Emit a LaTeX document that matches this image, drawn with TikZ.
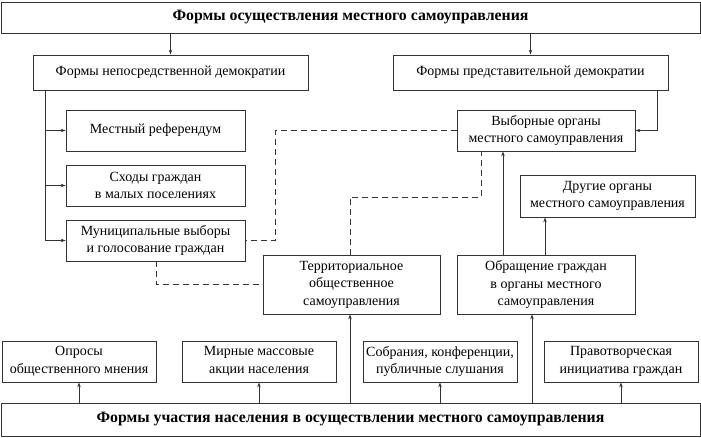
\documentclass[tikz,border=0pt]{standalone}
\usepackage{fontspec}
\setmainfont{Liberation Serif}
\usetikzlibrary{arrows.meta}
\tikzset{
  bx/.style={draw=black!80, line width=0.8pt, inner sep=0pt, align=center,
    font=\fontsize{14}{17.5}\selectfont},
  hd/.style={bx, font=\fontsize{15.8}{18}\selectfont\bfseries},
  arr/.style={draw=black!80, line width=0.8pt, -{Stealth[length=5pt,width=3.5pt]}},
  ln/.style={draw=black!80, line width=0.8pt},
  dsh/.style={draw=black!80, line width=0.8pt, dash pattern=on 6pt off 4pt},
}
\begin{document}
\begin{tikzpicture}[x=1pt,y=-1pt]
\useasboundingbox (0,0) rectangle (701,438);
% nodes
\node[hd, minimum width=699pt, minimum height=31pt] (top) at (350.5,17.5) {Формы осуществления местного самоуправления};
\node[bx, minimum width=275pt, minimum height=35pt] (nd) at (170.5,72.5) {Формы непосредственной демократии};
\node[bx, minimum width=275pt, minimum height=35pt] (pd) at (530.5,72.5) {Формы представительной демократии};
\node[bx, minimum width=179pt, minimum height=41pt] (ref) at (155.5,130.5) {Местный референдум};
\node[bx, minimum width=179pt, minimum height=41pt] (shod) at (155.5,185.5) {Сходы граждан\\в малых поселениях};
\node[bx, minimum width=179pt, minimum height=41pt] (mun) at (155.5,240.5) {Муниципальные выборы\\и голосование граждан};
\node[bx, minimum width=178pt, minimum height=41pt] (vyb) at (546,130.5) {Выборные органы\\местного самоуправления};
\node[bx, minimum width=175pt, minimum height=42pt] (drug) at (607.5,196) {Другие органы\\местного самоуправления};
\node[bx, minimum width=177pt, minimum height=59pt] (tos) at (351.5,284.5) {Территориальное\\общественное\\самоуправления};
\node[bx, minimum width=178pt, minimum height=59pt] (obr) at (546,284.5) {Обращение граждан\\в органы местного\\самоуправления};
\node[bx, minimum width=154pt, minimum height=41pt] (opr) at (79,361.5) {Опросы\\общественного мнения};
\node[bx, minimum width=154pt, minimum height=41pt] (mir) at (259,361.5) {Мирные массовые\\акции населения};
\node[bx, minimum width=154pt, minimum height=41pt] (sob) at (440,361.5) {Собрания, конференции,\\публичные слушания};
\node[bx, minimum width=154pt, minimum height=41pt] (prav) at (621,361.5) {Правотворческая\\инициатива граждан};
\node[hd, minimum width=699pt, minimum height=33pt] (bot) at (350.5,419.5) {Формы участия населения в осуществлении местного самоуправления};
% helper coordinates
\coordinate (lv) at (45,90);
\coordinate (rv) at (657,90);
\coordinate (d1) at (275,130.5);
\coordinate (d2) at (481,197);
\coordinate (d3) at (156,261);
\coordinate (a1) at (503,0);
\coordinate (a2) at (545,0);
\coordinate (a3) at (350,0);
\coordinate (a4) at (532,0);
% connectors
\draw[arr] (top.south -| nd.north) -- (nd.north);
\draw[arr] (top.south -| pd.north) -- (pd.north);
\draw[arr] (lv) |- (ref.west);
\draw[arr] (lv) |- (shod.west);
\draw[arr] (lv) |- (mun.west);
\draw[arr] (rv) |- (vyb.east);
\draw[dsh] (vyb.west) -- (d1) |- (mun.east);
\draw[dsh] (d3) |- (tos.west);
\draw[dsh] (tos.north -| a3) |- (d2) -- (vyb.south -| d2);
\draw[arr] (obr.north -| a1) -- (vyb.south -| a1);
\draw[arr] (obr.north -| a2) -- (drug.south -| a2);
\draw[arr] (bot.north -| opr.south) -- (opr.south);
\draw[arr] (bot.north -| mir.south) -- (mir.south);
\draw[arr] (bot.north -| sob.south) -- (sob.south);
\draw[arr] (bot.north -| prav.south) -- (prav.south);
\draw[arr] (bot.north -| a3) -- (tos.south -| a3);
\draw[arr] (bot.north -| a4) -- (obr.south -| a4);
\end{tikzpicture}
\end{document}
